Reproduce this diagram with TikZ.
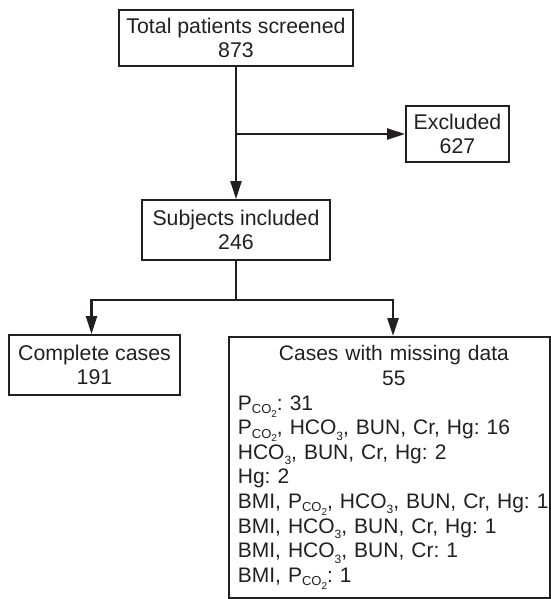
\documentclass[tikz,border=0pt]{standalone}
\usepackage{fontspec}
\setmainfont{Liberation Sans}
\usetikzlibrary{arrows.meta,positioning,calc}
\definecolor{ink}{RGB}{35,31,32}
\frenchspacing
\newcommand{\pco}{P\raisebox{-3.5pt}{\fontsize{13}{13}\selectfont CO\raisebox{-3.5pt}{\fontsize{10}{10}\selectfont 2}}}
\newcommand{\hco}{HCO\raisebox{-5.5pt}{\fontsize{12}{12}\selectfont 3}}
\newcommand{\ctrline}[1]{\makebox[312pt][c]{#1}}
\begin{document}
\begin{tikzpicture}[x=1pt,y=-1pt,
  box/.style={draw=ink,line width=1.8pt,inner sep=0pt,align=center,
    font=\fontsize{21.3}{24}\selectfont,text=ink},
  conn/.style={draw=ink,line width=2.3pt},
  arr/.style={conn,-{Triangle[length=18pt,width=11pt]}}]
\useasboundingbox (0,0) rectangle (550,599);
\node[box,minimum width=234pt,minimum height=56pt] (top) at (236,38) {Total patients screened\\873};
\node[box,minimum width=103pt,minimum height=56pt] (excl) at (457.5,134) {Excluded\\627};
\node[box,minimum width=188pt,minimum height=60pt] (subj) at (236,230) {Subjects included\\246};
\node[box,minimum width=171pt,minimum height=60pt] (comp) at (94.5,365) {Complete cases\\191};
\node[box,anchor=north west,align=left,inner xsep=9pt,text width=303pt,
  minimum height=261pt,font=\fontsize{21}{24.6}\selectfont] (miss) at (228,336)
  {\ctrline{Cases with missing data}\\
   \ctrline{55}\\
   \mbox{\pco: 31}\\
   \mbox{\pco, \hco, BUN, Cr, Hg: 16}\\
   \mbox{\hco, BUN, Cr, Hg: 2}\\
   \mbox{Hg: 2}\\
   \mbox{BMI, \pco, \hco, BUN, Cr, Hg: 1}\\
   \mbox{BMI, \hco, BUN, Cr, Hg: 1}\\
   \mbox{BMI, \hco, BUN, Cr: 1}\\
   \mbox{BMI, \pco: 1}};
\coordinate (branch) at (236,134);
\coordinate (lbr) at (91.5,300);
\coordinate (rbr) at (393,300);
\draw[arr] (top.south) -- (subj.north);
\draw[arr] (branch) -- (excl.west);
\draw[conn] (subj.south) -- (subj.south |- lbr);
\draw[conn,line cap=rect] (lbr) -- (rbr);
\draw[arr] (lbr) -- (lbr |- comp.north);
\draw[arr] (rbr) -- (rbr |- miss.north);
\end{tikzpicture}
\end{document}
